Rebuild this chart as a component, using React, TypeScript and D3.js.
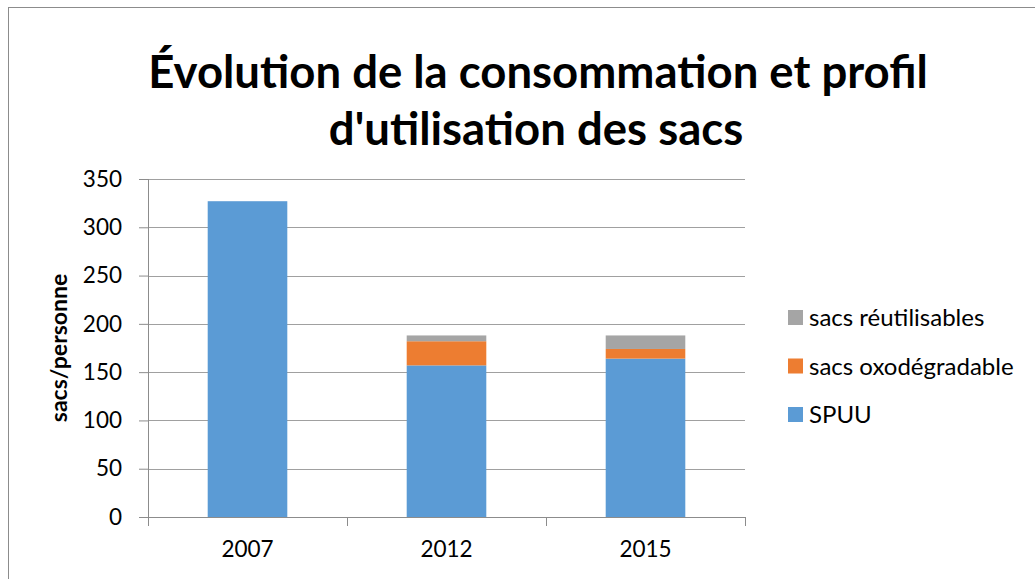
import React, { useEffect, useRef } from 'react';
import * as d3 from 'd3';

const YEARS = ['2007', '2012', '2015'];
const SPUU = [327, 157, 164];
const OXO = [0, 25, 10];
const REUSABLE = [0, 6, 14];
const SERIES = ['SPUU', 'sacs oxodégradable', 'sacs réutilisables'];
const Y_TICKS = [0, 50, 100, 150, 200, 250, 300, 350];
const COLORS = ['#5B9BD5', '#ED7D31', '#A5A5A5'];

const WIDTH = 1035;
const HEIGHT = 579;
const FONT = 'Lato, "Open Sans", sans-serif';

export default function App() {
  const svgRef = useRef<SVGSVGElement>(null);

  useEffect(() => {
    if (!svgRef.current) return;
    const svg = d3.select(svgRef.current);
    svg.selectAll('*').remove();

    const margin = { top: 179, right: 290, bottom: 62, left: 148 };
    const innerWidth = WIDTH - margin.left - margin.right;
    const innerHeight = HEIGHT - margin.top - margin.bottom;

    // chart frame
    svg.append('rect')
      .attr('x', 8.5).attr('y', 7.5)
      .attr('width', WIDTH + 10).attr('height', HEIGHT + 10)
      .attr('fill', 'white').attr('stroke', '#8c8c8c').attr('stroke-width', 1);

    const g = svg.append('g').attr('transform', `translate(${margin.left},${margin.top})`);

    const x = d3.scaleBand().domain(YEARS).range([0, innerWidth]).paddingInner(0.6).paddingOuter(0.3);
    const y = d3.scaleLinear().domain([0, 350]).range([innerHeight, 0]);

    // gridlines
    g.append('g')
      .selectAll('line')
      .data(Y_TICKS.slice(1))
      .join('line')
      .attr('x1', 0).attr('x2', innerWidth)
      .attr('y1', (d) => Math.round(y(d)) + 0.5).attr('y2', (d) => Math.round(y(d)) + 0.5)
      .attr('stroke', '#a0a0a0');

    const rows = YEARS.map((year, i) => ({ year, SPUU: SPUU[i], OXO: OXO[i], REUSABLE: REUSABLE[i] }));
    const stack = d3.stack<any>().keys(['SPUU', 'OXO', 'REUSABLE'])(rows);

    stack.forEach((layer, si) => {
      g.append('g')
        .selectAll('rect')
        .data(layer.filter((d) => d[1] > d[0]))
        .join('rect')
        .attr('x', (d) => x(d.data.year) as number)
        .attr('width', x.bandwidth())
        .attr('y', (d) => y(d[1]))
        .attr('height', (d) => y(d[0]) - y(d[1]))
        .attr('fill', COLORS[si]);
    });

    // y axis
    const yAxis = g.append('g').call(
      d3.axisLeft(y).tickValues(Y_TICKS).tickSize(9).tickPadding(17).tickFormat(d3.format('d'))
    );
    yAxis.select('.domain').attr('stroke', '#8c8c8c').attr('d', `M0.5,${innerHeight}V0`);
    yAxis.selectAll('.tick line').attr('stroke', '#8c8c8c');
    yAxis.selectAll('.tick text')
      .attr('font-family', FONT).attr('font-size', 22.5).attr('fill', '#000');

    // x axis
    const xAxis = g.append('g')
      .attr('transform', `translate(0,${innerHeight})`)
      .call(d3.axisBottom(x).tickSize(0).tickPadding(24));
    xAxis.select('.domain').attr('stroke', '#8c8c8c').attr('d', `M-9,0.5H${innerWidth}`);
    xAxis.selectAll('.tick text')
      .attr('font-family', FONT).attr('font-size', 22.5).attr('fill', '#000');
    // category boundary ticks
    g.append('g')
      .selectAll('line')
      .data(d3.range(YEARS.length + 1))
      .join('line')
      .attr('x1', (i) => Math.round((i * innerWidth) / YEARS.length) + 0.5)
      .attr('x2', (i) => Math.round((i * innerWidth) / YEARS.length) + 0.5)
      .attr('y1', innerHeight).attr('y2', innerHeight + 9)
      .attr('stroke', '#8c8c8c');

    // y label
    svg.append('text')
      .attr('transform', `translate(67,${margin.top + y(175)}) rotate(-90)`)
      .attr('text-anchor', 'middle')
      .attr('font-family', FONT).attr('font-size', 23).attr('font-weight', 'bold')
      .text('sacs/personne');

    // title
    const title = svg.append('text')
      .attr('text-anchor', 'middle')
      .attr('font-family', FONT).attr('font-size', 45.5).attr('font-weight', 'bold');
    title.append('tspan').attr('x', 538).attr('y', 88).text('Évolution de la consommation et profil');
    title.append('tspan').attr('x', 536).attr('y', 145).text("d'utilisation des sacs");

    // legend
    const legendOrder = [2, 1, 0];
    const legend = svg.append('g').attr('transform', 'translate(788,310)');
    legendOrder.forEach((si, k) => {
      const item = legend.append('g').attr('transform', `translate(0,${k * 48.5})`);
      item.append('rect').attr('width', 15).attr('height', 15).attr('fill', COLORS[si]);
      item.append('text')
        .attr('x', 21).attr('y', 16)
        .attr('font-family', FONT).attr('font-size', 24)
        .text(SERIES[si]);
    });
  }, []);

  return (
    <div style={{ position: 'absolute', left: 0, top: 0 }}>
      <svg ref={svgRef} width={WIDTH} height={HEIGHT} style={{ display: 'block' }} />
    </div>
  );
}
